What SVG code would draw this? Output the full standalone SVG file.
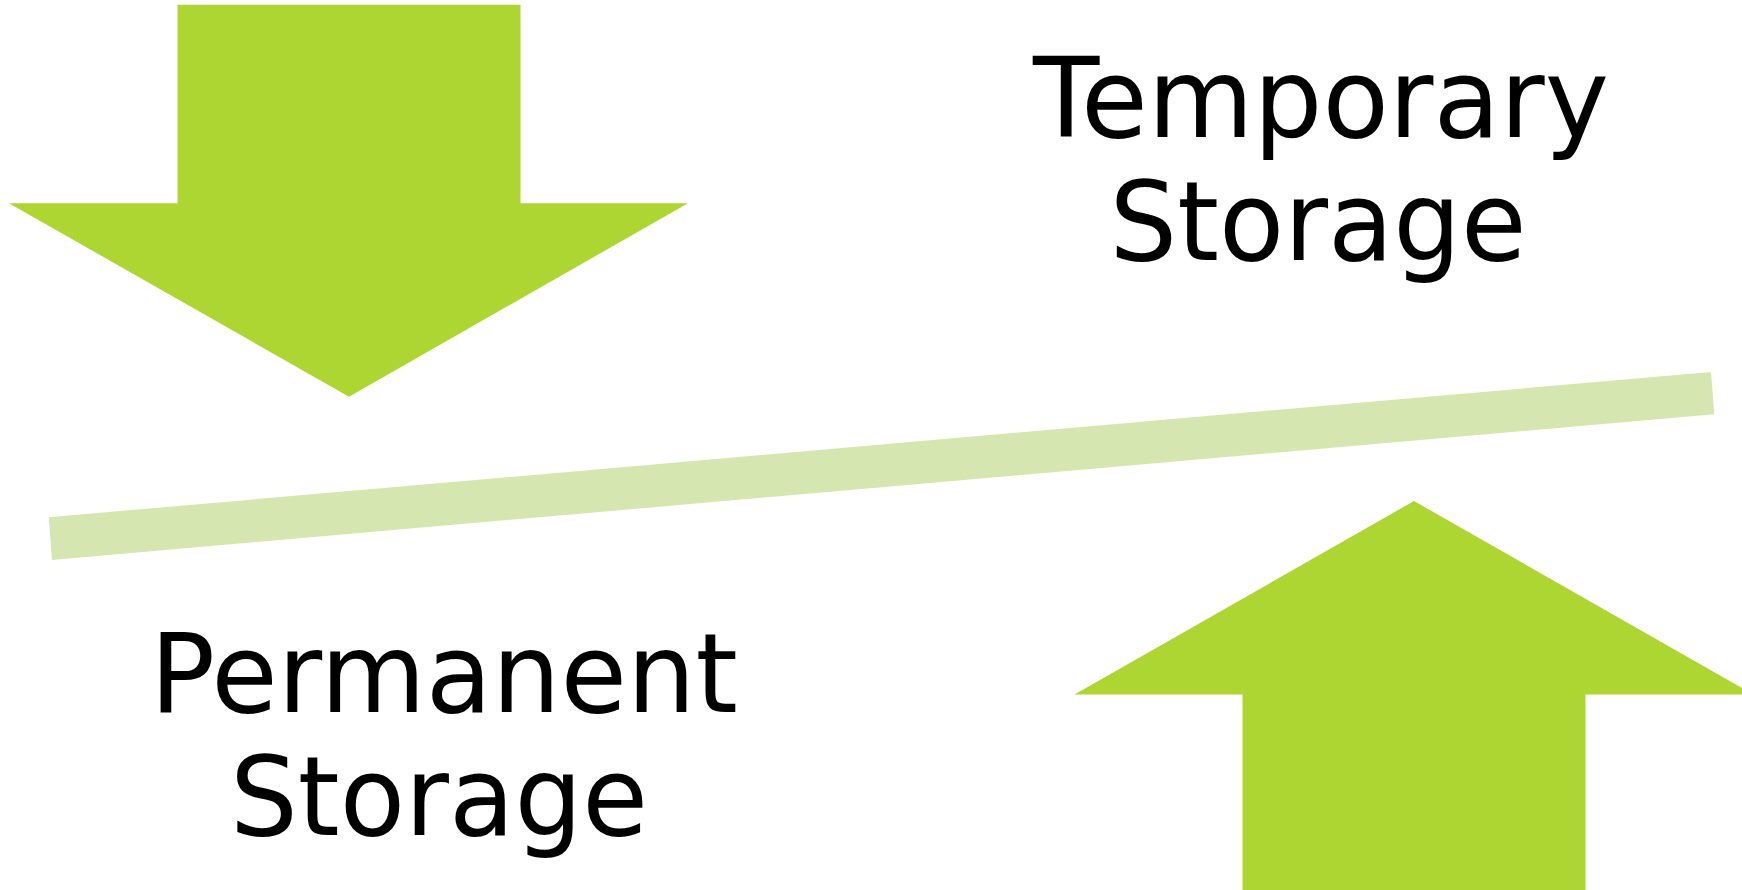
<svg xmlns="http://www.w3.org/2000/svg" width="1742" height="890" viewBox="0 0 1742 890">
  <style>
    .arrow { fill: #ADD633; }
    .bar { fill: #D5E6B0; }
    .label { font-family: "DejaVu Sans", "Liberation Sans", sans-serif; font-size: 111px; fill: #000000; text-anchor: middle; }
  </style>
  <rect width="1742" height="890" fill="#FFFFFF"/>
  <g id="down-arrow">
    <polygon class="arrow" points="177.5,4.7 520.5,4.7 520.5,203.2 688,203.2 349,396.8 9,203.2 177.5,203.2"/>
  </g>
  <g id="balance-bar">
    <polygon class="bar" points="48.7,517.3 1711,372 1714.3,414.3 52,560"/>
  </g>
  <g id="up-arrow">
    <polygon class="arrow" points="1414,501 1753.5,694.5 1585.5,694.5 1585.5,890 1242.5,890 1242.5,694.5 1074.5,694.5"/>
  </g>
  <g id="temporary-storage">
    <text class="label" x="1321" y="136.7" textLength="576" lengthAdjust="spacingAndGlyphs">Temporary</text>
    <text class="label" x="1318" y="260" textLength="417" lengthAdjust="spacingAndGlyphs">Storage</text>
  </g>
  <g id="permanent-storage">
    <text class="label" x="444" y="711.7" textLength="588" lengthAdjust="spacingAndGlyphs">Permanent</text>
    <text class="label" x="439" y="835" textLength="418" lengthAdjust="spacingAndGlyphs">Storage</text>
  </g>
</svg>
